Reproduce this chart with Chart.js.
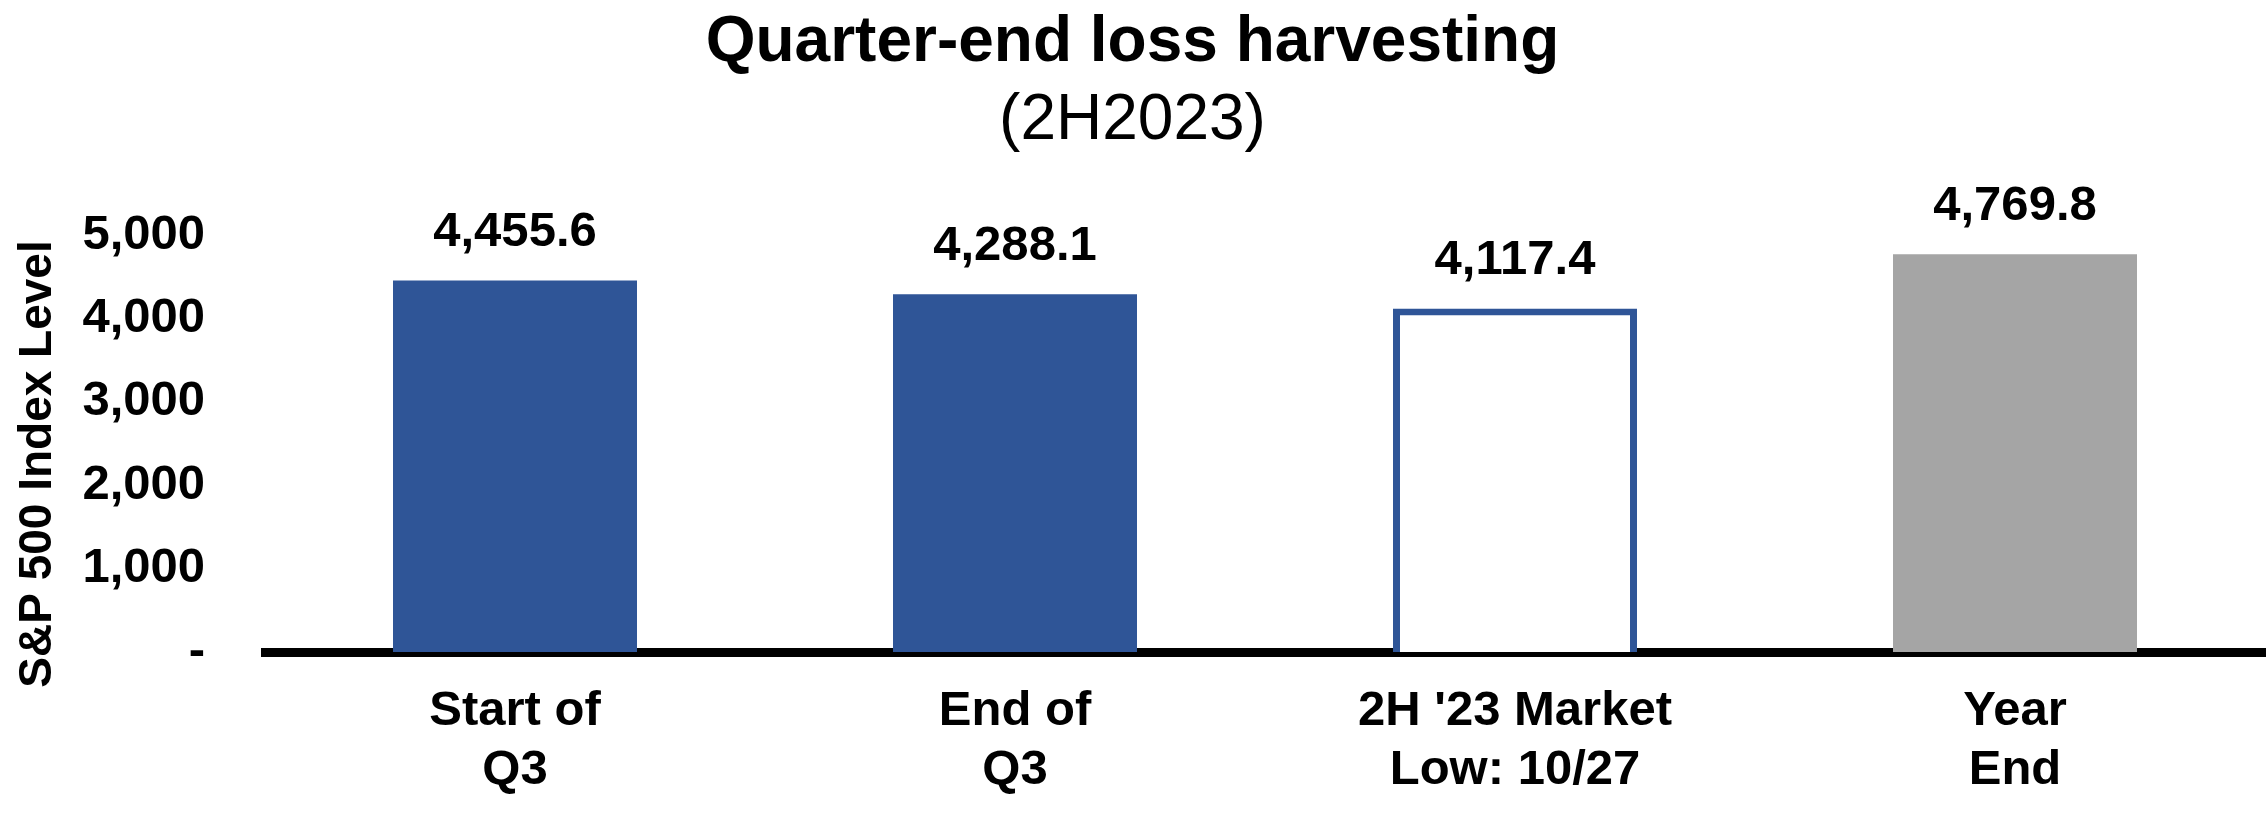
<!DOCTYPE html>
<html>
<head>
<meta charset="utf-8">
<title>Quarter-end loss harvesting</title>
<script src="https://cdn.jsdelivr.net/npm/chart.js@4.4.1/dist/chart.umd.min.js"></script>
<style>
    html, body { margin: 0; padding: 0; background: #fff; }
    #wrap { width: 2267px; height: 835px; }
</style>
</head>
<body>
<div id="wrap"><canvas id="myChart"></canvas></div>
<script>
// data
var categories = [['Start of', 'Q3'], ['End of', 'Q3'], ["2H '23 Market", 'Low: 10/27'], ['Year', 'End']];
var indexLevels = [4455.6, 4288.1, 4117.4, 4769.8];
var barFills = ['#2F5597', '#2F5597', '#FFFFFF', '#A5A5A5'];
var barBorders = [0, 0, 7, 0];
var yTicks = [0, 1000, 2000, 3000, 4000, 5000];
var yTitle = 'S&P 500 Index Level';

var FONT = '"Liberation Sans", Arial, sans-serif';

function fmtValue(v) {
    return v.toLocaleString('en-US', { minimumFractionDigits: 1, maximumFractionDigits: 1 });
}

// numbers above the bars
var valueLabels = {
    id: 'valueLabels',
    afterDatasetsDraw: function (chart) {
        var ctx = chart.ctx;
        var meta = chart.getDatasetMeta(0);
        ctx.save();
        ctx.font = 'bold 49px ' + FONT;
        ctx.fillStyle = '#000';
        ctx.textAlign = 'center';
        ctx.textBaseline = 'middle';
        meta.data.forEach(function (bar, i) {
            ctx.fillText(fmtValue(indexLevels[i]), bar.x, bar.y - 48);
        });
        ctx.restore();
    }
};

// y axis title, sits a bit low like the original
var yAxisTitle = {
    id: 'yAxisTitle',
    afterDraw: function (chart) {
        var ctx = chart.ctx;
        ctx.save();
        ctx.translate(chart.scales.y.left + 38, chart.chartArea.bottom - 188);
        ctx.rotate(-Math.PI / 2);
        ctx.font = 'bold 46px ' + FONT;
        ctx.fillStyle = '#000';
        ctx.textAlign = 'center';
        ctx.textBaseline = 'middle';
        ctx.fillText(yTitle, 0, 0);
        ctx.restore();
    }
};

document.addEventListener('DOMContentLoaded', function () {
    Chart.defaults.font.family = FONT;
    Chart.defaults.color = '#000';

    var ctx = document.getElementById('myChart').getContext('2d');
    new Chart(ctx, {
        type: 'bar',
        data: {
            labels: categories,
            datasets: [{
                data: indexLevels,
                backgroundColor: barFills,
                borderColor: '#2F5597',
                borderWidth: barBorders,
                categoryPercentage: 1,
                barPercentage: 0.488
            }]
        },
        options: {
            responsive: true,
            maintainAspectRatio: false,
            devicePixelRatio: 1,
            animation: false,
            layout: { padding: { top: 0, right: 2, bottom: 0, left: 0 } },
            plugins: {
                legend: { display: false },
                tooltip: { enabled: false },
                title: {
                    display: true,
                    text: 'Quarter-end loss harvesting',
                    color: '#000',
                    font: { size: 64, weight: 'bold', lineHeight: 1.2 },
                    padding: { top: 5, bottom: 9 }
                },
                subtitle: {
                    display: true,
                    text: '(2H2023)',
                    color: '#000',
                    font: { size: 64, weight: 'normal', lineHeight: 0.95 },
                    padding: { top: 0, bottom: 0 }
                }
            },
            scales: {
                x: {
                    z: 1,
                    grid: { display: false, drawTicks: false },
                    border: { display: true, color: '#000', width: 9 },
                    ticks: {
                        color: '#000',
                        padding: 30,
                        maxRotation: 0,
                        autoSkip: false,
                        font: { size: 49, weight: 'bold', lineHeight: 1.2 }
                    },
                    afterFit: function (scale) { scale.height = 183; }
                },
                y: {
                    min: 0,
                    max: 6000,
                    grid: { display: false, drawTicks: false },
                    border: { display: false },
                    afterBuildTicks: function (scale) {
                        scale.ticks = yTicks.map(function (v) { return { value: v }; });
                    },
                    ticks: {
                        color: '#000',
                        padding: 60,
                        font: { size: 49, weight: 'bold' },
                        callback: function (value) {
                            return value === 0 ? '-' : value.toLocaleString('en-US');
                        }
                    },
                    afterFit: function (scale) { scale.width = 265; }
                }
            }
        },
        plugins: [valueLabels, yAxisTitle]
    });
});
</script>
</body>
</html>
